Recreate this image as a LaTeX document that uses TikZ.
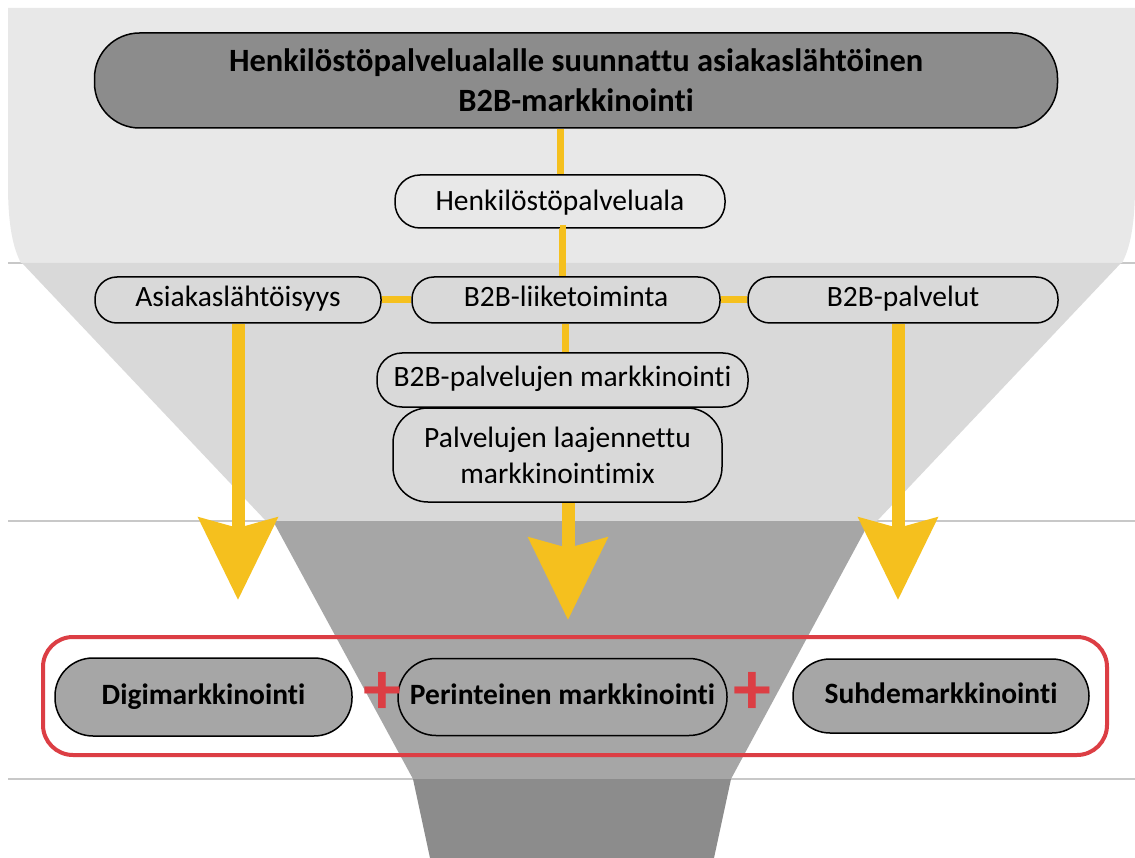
\documentclass[tikz,border=0pt]{standalone}
\usepackage{fontspec}
\setmainfont{Carlito}[Ligatures=NoCommon]
\usetikzlibrary{arrows.meta}
\definecolor{bandA}{RGB}{232,232,232}
\definecolor{bandB}{RGB}{217,217,217}
\definecolor{bandC}{RGB}{166,166,166}
\definecolor{bandD}{RGB}{140,140,140}
\definecolor{sepgray}{RGB}{200,200,200}
\definecolor{gold}{RGB}{245,192,30}
\definecolor{redline}{RGB}{220,62,68}
\tikzset{
  lbox/.style={draw=black, line width=1.5pt, rounded corners=#1, inner sep=0pt,
    font=\fontsize{29.5}{36}\selectfont, align=center},
  dbox/.style={draw=black, line width=1.5pt, rounded corners=#1, inner sep=0pt,
    font=\fontsize{29.5}{36}\selectfont\bfseries, align=center, fill=bandC},
  oneline/.style={text height=20pt, text depth=6pt},
  link/.style={draw=gold, line width=7pt},
  bigarrow/.style={draw=gold, line width=13pt, -{Stealth[length=82pt, width=78pt, inset=10pt]}},
  plus/.style={text=redline, font=\fontsize{76}{76}\selectfont\bfseries, inner sep=0pt},
  sep/.style={draw=sepgray, line width=2pt}
}
\begin{document}
\begin{tikzpicture}[x=1pt,y=-1pt]
\useasboundingbox (0,0) rectangle (1135,858);
\fill[white] (0,0) rectangle (1135,858);
% separator lines
\draw[sep] (8,263) -- (1135,263);
\draw[sep] (8,521) -- (1135,521);
\draw[sep] (8,779) -- (1135,779);
% funnel bands
\fill[bandA] (8,8) -- (1135,8) -- (1135,185) .. controls (1135,225) and (1130,248) .. (1122,263)
  -- (21,263) .. controls (13,248) and (8,225) .. (8,185) -- cycle;
\fill[bandB] (22,263) -- (1121,263) -- (877,521) -- (266,521) -- cycle;
\fill[bandC] (273,521) -- (870,521) -- (731,779) -- (413,779) -- cycle;
\fill[bandD] (413,779) -- (731,779) -- (714,858) -- (430,858) -- cycle;
% nodes
\node[dbox=45pt, fill=bandD, minimum width=963pt, minimum height=95pt,
  font=\fontsize{32.5}{40}\selectfont\bfseries] (top) at (576,80.5)
  {Henkilöstöpalvelualalle suunnattu asiakaslähtöinen\\B2B-markkinointi};
\node[lbox=25pt, text height=22pt, text depth=3pt, minimum width=330pt, minimum height=53pt] (hp) at (560,201.5) {Henkilöstöpalveluala};
\node[lbox=22pt, oneline, minimum width=308pt, minimum height=46pt] (b2bl) at (566,300) {B2B-liiketoiminta};
\node[lbox=22pt, oneline, minimum width=286pt, minimum height=46pt] (asia) at (238,300) {Asiakaslähtöisyys};
\node[lbox=22pt, oneline, minimum width=310pt, minimum height=46pt] (b2bp) at (903,300) {B2B-palvelut};
\node[lbox=25pt, oneline, minimum width=371pt, minimum height=54pt] (mark) at (562.5,380) {B2B-palvelujen markkinointi};
\node[lbox=35pt, minimum width=329pt, minimum height=94pt] (mix) at (557.5,455) {Palvelujen laajennettu\\markkinointimix};
% connectors
\draw[link] (hp.north) -- (hp.north |- top.south);
\draw[link] (hp.south) -- (hp.south -| 562,0) -- (b2bl.north -| 562,0);
\draw[link] (b2bl.south -| 565,0) -- (mark.north -| 565,0);
\draw[link] (asia.east) -- (b2bl.west);
\draw[link] (b2bl.east) -- (b2bp.east -| b2bp.west);
% big arrows
\coordinate (tl) at (238,600);
\coordinate (tm) at (568,620);
\coordinate (tr) at (898,600);
\draw[bigarrow] (asia.south) -- (tl);
\draw[bigarrow] (mix.south -| tm) -- (tm);
\draw[bigarrow] (b2bp.south -| tr) -- (tr);
% bottom group
\node[draw=redline, line width=4pt, rounded corners=30pt, minimum width=1064pt, minimum height=118pt] (grp) at (575,696) {};
\node[dbox=38pt, oneline, minimum width=297pt, minimum height=78pt] (digi) at (203.5,697) {Digimarkkinointi};
\node[dbox=38pt, oneline, minimum width=329pt, minimum height=77pt] (perin) at (562.5,697) {Perinteinen markkinointi};
\node[dbox=37pt, oneline, minimum width=296pt, minimum height=74pt] (suhde) at (941,696) {Suhdemarkkinointi};
\node[plus] (p1) at (382,693) {+};
\node[plus] (p2) at (752,693) {+};
\end{tikzpicture}
\end{document}
